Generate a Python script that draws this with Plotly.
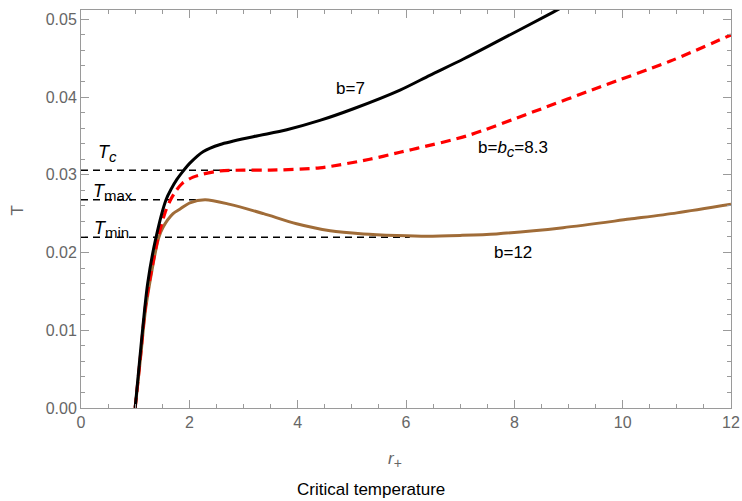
import plotly.graph_objects as go

# ---- data ----
r_b7 = [1.0, 1.1, 1.23, 1.38, 1.57, 1.66, 1.77, 1.90, 2.01, 2.26, 2.57, 3.18, 3.80, 4.41, 5.03, 5.89, 6.44, 7.06, 7.67, 8.71, 9.0]
T_b7 = [0.0, 0.0074, 0.0160, 0.0218, 0.0268, 0.0281, 0.0294, 0.0306, 0.0315, 0.0330, 0.0339, 0.0349, 0.0358, 0.0370, 0.0385, 0.0409, 0.0428, 0.0449, 0.0471, 0.0509, 0.0520]

r_bc = [1.0, 1.1, 1.2, 1.42, 1.55, 1.64, 1.75, 1.87, 2.07, 2.26, 2.57, 3.0, 3.49, 4.41, 5.33, 5.89, 6.2, 7.12, 8.35, 9.58, 10.87, 12.0]
T_bc = [0.0, 0.0068, 0.0136, 0.0218, 0.0251, 0.0266, 0.0279, 0.0289, 0.0297, 0.0301, 0.0305, 0.0306, 0.0306, 0.0309, 0.0320, 0.0329, 0.0334, 0.0350, 0.0381, 0.0413, 0.0446, 0.0480]

r_b12 = [1.0, 1.1, 1.2, 1.43, 1.51, 1.70, 1.83, 2.01, 2.29, 2.75, 3.37, 3.98, 4.6, 5.21, 5.83, 6.38, 7.0, 7.67, 8.9, 10.13, 11.0, 12.0]
T_b12 = [0.0, 0.0065, 0.0131, 0.0218, 0.0232, 0.0250, 0.0256, 0.0264, 0.0268, 0.0262, 0.0250, 0.0237, 0.0228, 0.0224, 0.0222, 0.0221, 0.0222, 0.0224, 0.0232, 0.0243, 0.0251, 0.0262]

T_levels = [0.0306, 0.0268, 0.02196]   # T_c, T_max, T_min
ref_end = [3.3, 2.2, 6.07]

SUB = "<sub><span style='font-size:15px'>{}</span></sub>"
curve_labels = ["b=7", "b=<i>b</i>" + SUB.format("<i>c</i>") + "=8.3", "b=12"]
curve_label_pos = [(4.98, 0.0411), (7.98, 0.0333), (7.98, 0.0200)]
level_labels = ["<i>T</i>" + SUB.format("<i>c</i>"), "<i>T</i>" + SUB.format("max"), "<i>T</i>" + SUB.format("min")]
level_label_pos = [(0.48, 0.0328), (0.59, 0.0277), (0.57, 0.0229)]

fig = go.Figure()

for lvl, xe in zip(T_levels, ref_end):
    fig.add_trace(go.Scatter(x=[0, xe], y=[lvl, lvl], mode="lines",
                             line=dict(color="black", width=1.5, dash="7px,5px"),
                             showlegend=False, hoverinfo="skip"))

fig.add_trace(go.Scatter(x=r_b12, y=T_b12, mode="lines",
                         line=dict(color="#a06c38", width=3, shape="spline", smoothing=0.8),
                         showlegend=False))
fig.add_trace(go.Scatter(x=r_bc, y=T_bc, mode="lines",
                         line=dict(color="#ff0000", width=3.2, dash="10px,6px", shape="spline", smoothing=0.8),
                         showlegend=False))
fig.add_trace(go.Scatter(x=r_b7, y=T_b7, mode="lines",
                         line=dict(color="black", width=3, shape="spline", smoothing=0.8),
                         showlegend=False))

annos = []
for txt, (x, y) in zip(curve_labels, curve_label_pos):
    annos.append(dict(x=x, y=y, text=txt, showarrow=False, xanchor="center", yanchor="middle",
                      font=dict(size=17, color="black")))
for txt, (x, y) in zip(level_labels, level_label_pos):
    annos.append(dict(x=x, y=y, text=txt, showarrow=False, xanchor="center", yanchor="middle",
                      font=dict(size=18, color="black")))
annos.append(dict(x=0.483, y=-0.131, xref="paper", yref="paper",
                  text="<i>r</i><sub><span style='font-size:14px'>+</span></sub>",
                  showarrow=False, xanchor="center", yanchor="middle", font=dict(size=17, color="#666666")))
annos.append(dict(x=0.446, y=-0.206, xref="paper", yref="paper", text="Critical temperature",
                  showarrow=False, xanchor="center", yanchor="middle", font=dict(size=17, color="black")))
annos.append(dict(x=-0.098, y=0.497, xref="paper", yref="paper", text="T", textangle=-90,
                  showarrow=False, xanchor="center", yanchor="middle", font=dict(size=17, color="#666666")))

axcommon = dict(showline=True, linecolor="#9a9a9a", linewidth=1, mirror="ticks", ticks="inside",
                tickcolor="#9a9a9a", showgrid=False, zeroline=False, automargin=False,
                tickfont=dict(size=16, color="#666666", family="Liberation Sans"))
fig.update_xaxes(range=[0, 12], dtick=2, tick0=0, ticklen=8,
                 minor=dict(ticks="inside", dtick=0.5, ticklen=4, tickcolor="#9a9a9a", showgrid=False),
                 **axcommon)
fig.update_yaxes(range=[0, 0.0512], dtick=0.01, tick0=0, ticklen=8, tickformat=".2f",
                 minor=dict(ticks="inside", dtick=0.002, ticklen=4, tickcolor="#9a9a9a", showgrid=False),
                 **axcommon)

fig.update_layout(width=742, height=501, autosize=False, margin=dict(l=81, r=11, t=10, b=93),
                  plot_bgcolor="white", paper_bgcolor="white",
                  font=dict(family="Liberation Sans"), annotations=annos)

fig.write_html("out.html")
